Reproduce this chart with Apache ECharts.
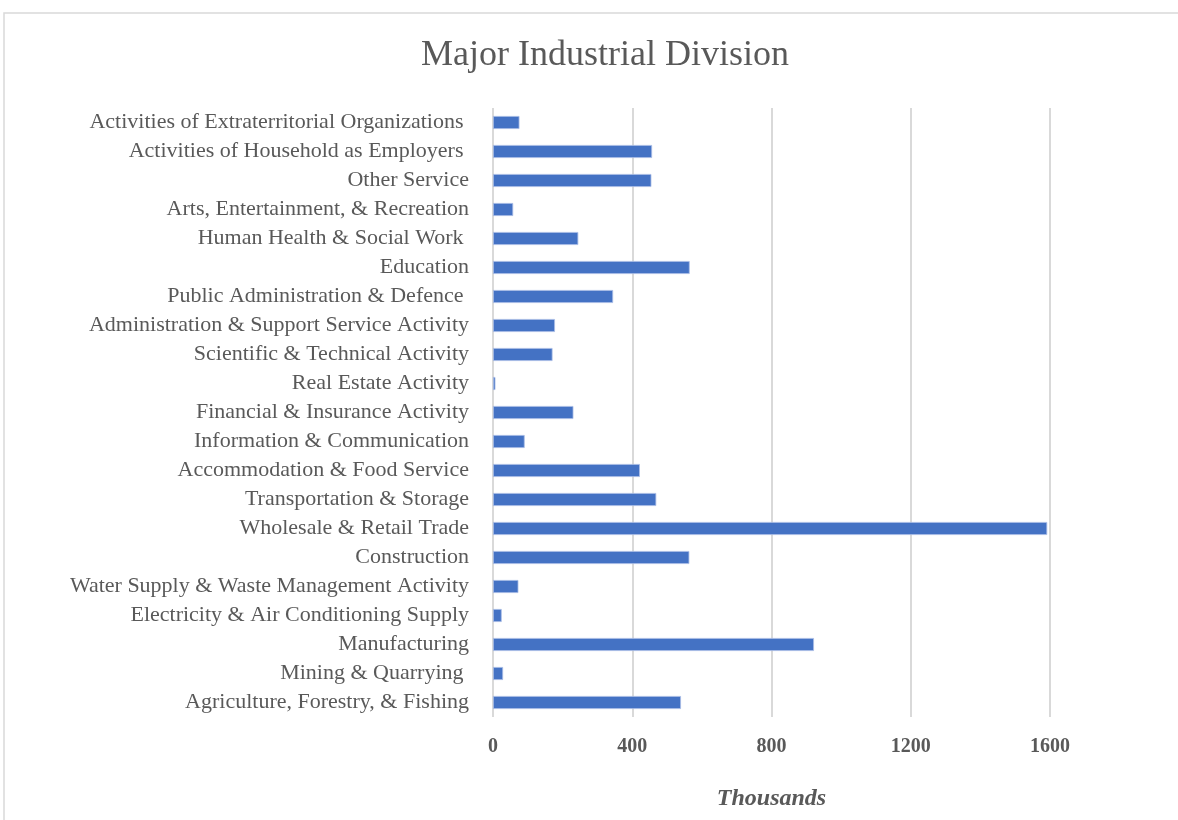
<!DOCTYPE html>
<html>
<head>
<meta charset="utf-8">
<title>Major Industrial Division</title>
<script src="https://cdn.jsdelivr.net/npm/echarts@6/dist/echarts.min.js"></script>
<style>
  html, body { margin: 0; padding: 0; background: #ffffff; }
  #chart { width: 1178px; height: 820px; }
</style>
</head>
<body>
<div id="chart"></div>
<script>
// Industry divisions, listed bottom to top on the category axis
const industries = [
  'Agriculture, Forestry, & Fishing',
  'Mining & Quarrying ',
  'Manufacturing',
  'Electricity & Air Conditioning Supply',
  'Water Supply & Waste Management Activity',
  'Construction',
  'Wholesale & Retail Trade',
  'Transportation & Storage',
  'Accommodation & Food Service',
  'Information & Communication',
  'Financial & Insurance Activity',
  'Real Estate Activity',
  'Scientific & Technical Activity',
  'Administration & Support Service Activity',
  'Public Administration & Defence ',
  'Education',
  'Human Health & Social Work ',
  'Arts, Entertainment, & Recreation',
  'Other Service',
  'Activities of Household as Employers ',
  'Activities of Extraterritorial Organizations '
];

// Employed persons, in thousands
const employed = [
  540, 29, 922, 25, 73, 564, 1592, 469, 422, 91, 231,
  7, 171, 178, 345, 565, 245, 58, 455, 457, 76
];

// Value axis ticks
const axisTicks = [0, 400, 800, 1200, 1600];

const chart = echarts.init(document.getElementById('chart'));

const serif = '"Liberation Serif", "Times New Roman", serif';

chart.setOption({
  backgroundColor: '#ffffff',
  animation: false,
  title: {
    text: 'Major Industrial Division',
    left: 600,
    textAlign: 'center',
    top: 33,
    textStyle: {
      fontFamily: serif,
      fontSize: 36,
      fontWeight: 'normal',
      color: '#595959'
    }
  },
  graphic: [{
    type: 'rect',
    shape: { x: 4, y: 13, width: 1300, height: 1000 },
    style: { fill: 'none', stroke: '#d9d9d9', lineWidth: 1.5 },
    silent: true,
    z: -1
  }],
  grid: {
    left: 493,
    right: 128,
    top: 108,
    bottom: 103,
    containLabel: false
  },
  xAxis: {
    type: 'value',
    min: axisTicks[0],
    max: axisTicks[axisTicks.length - 1],
    interval: axisTicks[1] - axisTicks[0],
    name: 'Thousands',
    nameLocation: 'middle',
    nameGap: 70,
    nameTextStyle: {
      fontFamily: serif,
      fontSize: 24,
      fontWeight: 'bold',
      fontStyle: 'italic',
      color: '#595959'
    },
    axisLine: { show: false },
    axisTick: { show: false },
    axisLabel: {
      margin: 20,
      fontFamily: serif,
      fontSize: 20,
      fontWeight: 'bold',
      color: '#595959',
      formatter: function (v) { return String(v); }
    },
    splitLine: {
      show: true,
      lineStyle: { color: '#d9d9d9', width: 2 }
    }
  },
  yAxis: {
    type: 'category',
    data: industries,
    axisLine: { show: false },
    axisTick: { show: false },
    axisLabel: {
      margin: 24,
      fontFamily: serif,
      fontSize: 22,
      color: '#595959'
    },
    splitLine: { show: false }
  },
  series: [{
    type: 'bar',
    data: employed,
    barWidth: 13,
    itemStyle: {
      color: '#4472c4',
      borderColor: '#a9bde6',
      borderWidth: 0.8
    }
  }]
});
</script>
</body>
</html>
